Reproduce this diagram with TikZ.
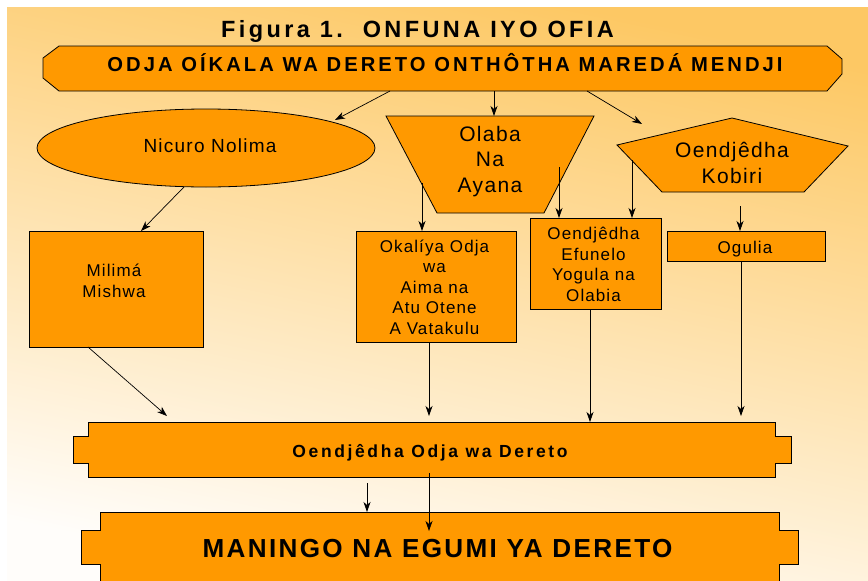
\documentclass[tikz,border=0pt]{standalone}
\usepackage{fontspec}
\setmainfont{Liberation Sans}
\newfontfamily\fTitle{Liberation Sans}[LetterSpace=14.5]
\newfontfamily\fBan{Liberation Sans}[LetterSpace=15]
\newfontfamily\fMid{Liberation Sans}[LetterSpace=15]
\newfontfamily\fBot{Liberation Sans}[LetterSpace=9]
\newfontfamily\fReg{Liberation Sans}[LetterSpace=6.5]
\usetikzlibrary{arrows.meta,shapes.geometric}
\definecolor{orng}{RGB}{255,153,0}
\definecolor{bgtop}{RGB}{253,200,100}
\definecolor{bgmid}{RGB}{254,230,190}
\definecolor{bgbot}{RGB}{255,253,250}
\begin{document}
\begin{tikzpicture}[x=1pt,y=-1pt,
  shp/.style={fill=orng,draw=black,line width=0.8pt},
  boxn/.style={shp,rectangle,inner sep=0pt},
  con/.style={draw=black,line width=0.7pt,-{Stealth[length=10pt,width=7pt,inset=3pt]}},
  txt/.style={inner sep=0pt,align=center,anchor=base},
  rg17/.style={txt,font=\fReg\fontsize{17}{20.4}\selectfont},
  rg21/.style={txt,font=\fReg\fontsize{21}{25.5}\selectfont}]
\useasboundingbox (0,0) rectangle (868,581);
\clip (0,0) rectangle (868,581);
\fill[white] (0,0) rectangle (868,581);
\shade[top color=bgtop,middle color=bgmid,bottom color=bgbot,shading angle=-12] (7,7) rectangle (868,581);

% title
\node[txt,font=\fTitle\bfseries\fontsize{23.5}{27}\selectfont] (title) at (417.5,37) {Figura 1.\ \ ONFUNA IYO OFIA};

% banner
\path[shp] (43,58) -- (59,46) -- (827,46) -- (842,59) -- (842,74) -- (827,91) -- (59,91) -- (43,78) -- cycle;
\node[txt,font=\fBan\bfseries\fontsize{20.2}{24}\selectfont] (banT) at (445,71) {ODJA OÍKALA WA DERETO ONTHÔTHA MAREDÁ MENDJI};

% second row shapes
\node[shp,ellipse,minimum width=338pt,minimum height=78pt,inner sep=0pt] (nic) at (206,148) {};
\node[txt,font=\fReg\fontsize{19}{23}\selectfont] (nicT) at (210,152) {Nicuro Nolima};
\path[shp] (386,116) -- (594,116) -- (544,213) -- (437,213) -- cycle;
\node[rg21] (olaT) at (490,192) {Olaba\\Na\\Ayana};
\path[shp] (732,118) -- (848,146) -- (804,192) -- (662,192) -- (617,145) -- cycle;
\node[rg21] (oenT) at (732,183) {Oendjêdha\\Kobiri};

% third row boxes
\node[boxn,minimum width=174pt,minimum height=116pt] (mil) at (116,289) {};
\node[rg17] (milT) at (114,297) {Milimá\\Mishwa};
\node[boxn,minimum width=160pt,minimum height=111pt] (oka) at (436,286.5) {};
\node[rg17] (okaT) at (434.5,334) {Okalíya Odja\\wa\\Aima na\\Atu Otene\\A Vatakulu};
\node[boxn,minimum width=131pt,minimum height=91pt] (efu) at (595.5,263.5) {};
\node[rg17] (efuT) at (593.5,301) {Oendjêdha\\Efunelo\\Yogula na\\Olabia};
\node[boxn,minimum width=158pt,minimum height=30pt] (ogu) at (746,246) {};
\node[rg17] (oguT) at (745,253) {Ogulia};

% middle tabbed box
\path[shp] (88,422) -- (775,422) -- (775,436) -- (791,436) -- (791,463) -- (775,463) -- (775,477) -- (88,477) -- (88,463) -- (73,463) -- (73,436) -- (88,436) -- cycle;
\node[txt,font=\fMid\bfseries\fontsize{17.5}{20}\selectfont] (midT) at (430,457) {Oendjêdha Odja wa Dereto};

% bottom tabbed box
\path[shp] (100,512) -- (779,512) -- (779,530) -- (798,530) -- (798,564) -- (779,564) -- (779,600) -- (100,600) -- (100,564) -- (81,564) -- (81,530) -- (100,530) -- cycle;
\node[txt,font=\fBot\bfseries\fontsize{26.1}{31}\selectfont] (botT) at (437.5,557) {MANINGO NA EGUMI YA DERETO};

% connector end points
\coordinate (a1s) at (390,91);  \coordinate (a1e) at (335,120);
\coordinate (a2s) at (494,91);  \coordinate (a2e) at (494,116);
\coordinate (a3s) at (587,91);  \coordinate (a3e) at (642,124);
\coordinate (a4s) at (184,187); \coordinate (a4e) at (141,231);
\coordinate (a5s) at (422,183); \coordinate (a5e) at (422,231);
\coordinate (a6s) at (559,167); \coordinate (a6e) at (559,218);
\coordinate (a7s) at (632,160); \coordinate (a7e) at (632,218);
\coordinate (a8s) at (740,206); \coordinate (a8e) at (740,231);
\coordinate (a9s) at (88,347);  \coordinate (a9e) at (167,416);
\coordinate (a10s) at (429,342); \coordinate (a10e) at (429,416);
\coordinate (a11s) at (590,309); \coordinate (a11e) at (590,422);
\coordinate (a12s) at (741,261); \coordinate (a12e) at (741,416);
\coordinate (a13s) at (367,483); \coordinate (a13e) at (367,512);
\coordinate (a14s) at (429,473); \coordinate (a14e) at (429,531);

\foreach \i in {1,...,14} {\draw[con] (a\i s) -- (a\i e);}
\end{tikzpicture}
\end{document}
